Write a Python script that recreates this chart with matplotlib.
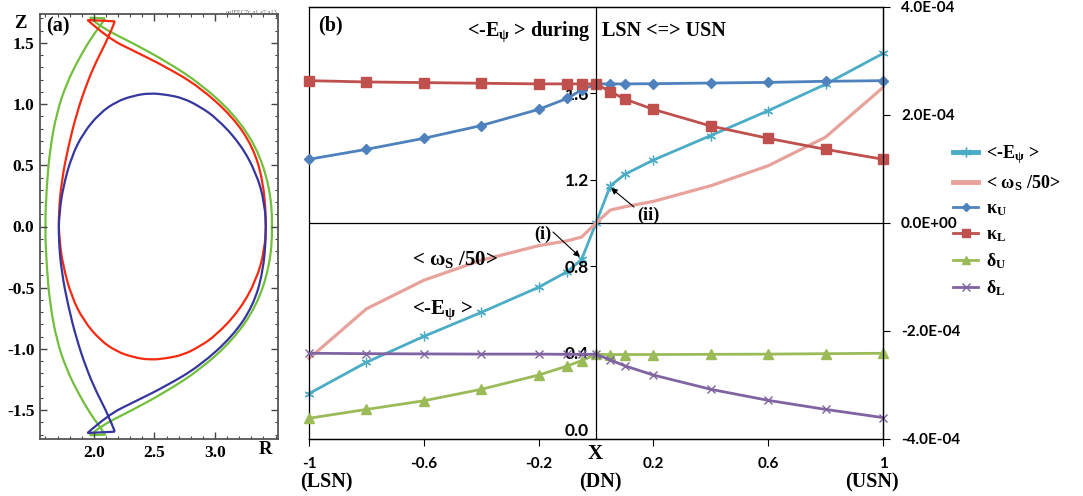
import matplotlib
matplotlib.use("Agg")
import matplotlib.pyplot as plt
from matplotlib.lines import Line2D
from matplotlib.path import Path
from matplotlib.patches import PathPatch
from matplotlib.ticker import MultipleLocator, FuncFormatter

# ---------------- panel (a): plasma boundaries (R, Z) ----------------
# LSN boundary (blue); the USN boundary (red) is its up-down mirror image
lsn_R = [2.173, 2.118, 2.022, 1.940, 1.857, 1.788, 1.734, 1.708, 1.714, 1.747, 1.816, 1.912,
         2.049, 2.187, 2.324, 2.462, 2.599, 2.736, 2.874, 3.012, 3.204, 3.341, 3.410, 3.424,
         3.396, 3.313, 3.148, 2.874, 2.599, 2.324, 2.118, 1.947]
lsn_Z = [-1.676, -1.538, -1.355, -1.165, -0.921, -0.650, -0.377, -0.100, 0.112, 0.328, 0.573,
         0.764, 0.927, 1.021, 1.068, 1.090, 1.077, 1.049, 0.980, 0.886, 0.682, 0.438, 0.193,
         -0.050, -0.377, -0.650, -0.894, -1.139, -1.302, -1.437, -1.538, -1.687]
lsn_corners = [0, 31]
# DN boundary (green), upper half from inner midplane to outer midplane
dn_up_R = [1.596, 1.610, 1.637, 1.692, 1.775, 1.885, 1.994, 2.049, 2.091, 1.967, 2.049,
           2.324, 2.599, 2.874, 3.148, 3.341, 3.451, 3.478]
dn_up_Z = [0.000, 0.328, 0.628, 0.927, 1.171, 1.388, 1.565, 1.632, 1.700, 1.706, 1.632,
           1.497, 1.347, 1.171, 0.927, 0.654, 0.328, 0.000]
dn_corners = [8, 9, 25, 26]

a_xticks = [2.0, 2.5, 3.0]
a_xticklabels = ["2.0", "2.5", "3.0"]
a_yticks = [-1.5, -1.0, -0.5, 0.0, 0.5, 1.0, 1.5]
a_yticklabels = ["-1.5", "-1.0", "-0.5", "0.0", "0.5", "1.0", "1.5"]

# ---------------- panel (b) data ----------------
X = [-1, -0.8, -0.6, -0.4, -0.2, -0.1, -0.05, 0, 0.05, 0.1, 0.2, 0.4, 0.6, 0.8, 1]
kappa_U = [1.295, 1.341, 1.392, 1.451, 1.526, 1.577, 1.616, 1.644, 1.644, 1.644, 1.645,
           1.648, 1.651, 1.656, 1.659]
kappa_L = [1.659, 1.653, 1.650, 1.647, 1.644, 1.644, 1.644, 1.644, 1.608, 1.574, 1.526,
           1.449, 1.392, 1.341, 1.295]
delta_U = [0.096, 0.137, 0.177, 0.230, 0.296, 0.338, 0.363, 0.392, 0.391, 0.391, 0.391,
           0.392, 0.393, 0.395, 0.397]
delta_L = [0.397, 0.395, 0.394, 0.393, 0.393, 0.392, 0.392, 0.392, 0.366, 0.339, 0.296,
           0.230, 0.179, 0.137, 0.099]
E_psi = [-3.16e-4, -2.58e-4, -2.10e-4, -1.656e-4, -1.19e-4, -0.90e-4, -0.675e-4, 0.0,
         0.69e-4, 0.90e-4, 1.166e-4, 1.62e-4, 2.08e-4, 2.57e-4, 3.14e-4]
omega_s50 = [-2.51e-4, -1.59e-4, -1.06e-4, -0.69e-4, -0.42e-4, -0.33e-4, -0.26e-4, 0.0,
             0.24e-4, 0.30e-4, 0.40e-4, 0.69e-4, 1.06e-4, 1.59e-4, 2.51e-4]

b_xticks = [-1, -0.6, -0.2, 0.2, 0.6, 1]
b_xticklabels = ["-1", "-0.6", "-0.2", "0.2", "0.6", "1"]
left_ticks = [0.0, 0.4, 0.8, 1.2, 1.6]
right_ticks = [-4e-4, -2e-4, 0.0, 2e-4, 4e-4]

# ---------------- style ----------------
plt.rcParams["mathtext.fontset"] = "custom"
plt.rcParams["mathtext.rm"] = "Liberation Serif:bold"
plt.rcParams["mathtext.it"] = "Liberation Serif:bold"
plt.rcParams["mathtext.bf"] = "Liberation Serif:bold"

W, H = 1083, 496
fig = plt.figure(figsize=(W / 100, H / 100), dpi=100)


def fp(x, y):
    return (x / W, 1 - y / H)


def smooth_closed_path(R, Z, corners):
    """Closed path through the read boundary points: smooth (quadratic Bezier)
    between the sharp corner points, straight at the corners."""
    pts = list(zip(R, Z))
    n = len(pts)
    verts, codes = [pts[corners[0]]], [Path.MOVETO]
    for k in range(len(corners)):
        c0 = corners[k]
        c1 = corners[(k + 1) % len(corners)]
        run = []
        i = c0
        while True:
            run.append(pts[i])
            if i == c1 and len(run) > 1:
                break
            i = (i + 1) % n
        if len(run) == 2:
            verts.append(run[1]); codes.append(Path.LINETO)
            continue
        m = len(run) - 1
        for j in range(1, m):
            verts.append(run[j]); codes.append(Path.CURVE3)
            if j < m - 1:
                end = ((run[j][0] + run[j + 1][0]) / 2, (run[j][1] + run[j + 1][1]) / 2)
            else:
                end = run[m]
            verts.append(end); codes.append(Path.CURVE3)
    return Path(verts, codes)


SERIF = dict(family="Liberation Serif", weight="bold")

# ---------------- panel (a) ----------------
axa = fig.add_axes([40 / W, (H - 439) / H, 238 / W, 425 / H])
c_lsn, c_usn, c_dn = "#36369f", "#f52a10", "#72bf3c"
dn_R = dn_up_R + dn_up_R[::-1][1:-1]
dn_Z = dn_up_Z + [-z for z in dn_up_Z[::-1][1:-1]]
for R, Z, cr, col in [(dn_R, dn_Z, dn_corners, c_dn),
                      (lsn_R, [-z for z in lsn_Z], lsn_corners, c_usn),
                      (lsn_R, lsn_Z, lsn_corners, c_lsn)]:
    axa.add_patch(PathPatch(smooth_closed_path(R, Z, cr), facecolor="none", edgecolor=col,
                            lw=1.6, joinstyle="miter"))
axa.set_xlim(1.555, 3.52)
axa.set_ylim(-1.736, 1.736)
axa.set_xticks(a_xticks, a_xticklabels)
axa.set_yticks(a_yticks, a_yticklabels)
axa.xaxis.set_minor_locator(MultipleLocator(0.1))
axa.yaxis.set_minor_locator(MultipleLocator(0.1))
axa.tick_params(which="both", direction="in", top=True, right=True, color="#444444")
axa.tick_params(which="major", length=5, width=1.0)
axa.tick_params(which="minor", length=2.5, width=0.8)
axa.tick_params(axis="y", pad=4)
axa.tick_params(axis="x", pad=4)
for lab in axa.get_xticklabels() + axa.get_yticklabels():
    lab.set_fontfamily("Liberation Serif")
    lab.set_fontweight("bold")
    lab.set_fontsize(12.5)
for s in axa.spines.values():
    s.set_color("#555555")
    s.set_linewidth(1.3)
fig.text(*fp(58, 26), "(a)", ha="center", va="center", fontsize=14.5, **SERIF)
fig.text(*fp(20, 23), "Z", ha="center", va="center", fontsize=13.5, **SERIF)
fig.text(*fp(265, 450), "R", ha="center", va="center", fontsize=13.5, **SERIF)
fig.text(*fp(277, 12), "ouIFEC7c.a1.a7.a13", ha="right", va="center", fontsize=4.5,
         color="#666666", family="Liberation Serif")

# ---------------- panel (b) ----------------
axb = fig.add_axes([309 / W, (H - 439) / H, 574 / W, 432 / H])
axb2 = axb.twinx()
axb.set_zorder(axb2.get_zorder() + 1)
axb.patch.set_visible(False)

axb.set_xlim(-1, 1)
axb.set_ylim(0, 2)
axb2.set_ylim(-4e-4, 4e-4)

c_E, c_w, c_kU, c_kL, c_dU, c_dL = "#4bacc6", "#e8a29c", "#4f81bd", "#c0504d", "#9bbb59", "#8064a2"
axb2.plot(X, E_psi, color=c_E, lw=2.0, marker=(6, 2, 0), ms=7, mew=0.9, clip_on=False)
axb2.plot(X, omega_s50, color=c_w, lw=2.3, clip_on=False)
axb.plot(X, kappa_U, color=c_kU, lw=2.0, marker="D", ms=5, clip_on=False)
axb.plot(X, kappa_L, color=c_kL, lw=2.0, marker="s", ms=7, clip_on=False)
axb.plot(X, delta_U, color=c_dU, lw=2.0, marker="^", ms=7, clip_on=False)
axb.plot(X, delta_L, color=c_dL, lw=2.0, marker="x", ms=6, mew=1.0, clip_on=False)

axb2.axhline(0, color="black", lw=0.9, zorder=0)

for s in ["top", "right", "bottom"]:
    axb.spines[s].set_color("black")
    axb.spines[s].set_linewidth(0.9)
axb.spines["left"].set_position(("data", 0))
axb.spines["left"].set_linewidth(0.9)
for s in axb2.spines.values():
    s.set_linewidth(0.9)

axb.set_xticks(b_xticks, b_xticklabels)
axb.set_yticks(left_ticks)
axb.yaxis.set_major_formatter(FuncFormatter(lambda v, p: f"{v:.1f}"))
axb.tick_params(axis="x", direction="out", length=5, pad=8)
axb.tick_params(axis="y", direction="out", length=4, pad=1)
for lab in axb.get_xticklabels():
    lab.set_fontfamily("Lato")
    lab.set_fontweight("bold")
    lab.set_fontsize(11)
for lab in axb.get_yticklabels():
    lab.set_fontfamily("Lato")
    lab.set_fontweight("bold")
    lab.set_fontsize(12.5)
axb.get_yticklabels()[0].set_verticalalignment("bottom")

axb2.set_yticks(right_ticks)
axb2.yaxis.set_major_formatter(FuncFormatter(lambda v, p: f"{v:.1E}"))
axb2.tick_params(axis="y", direction="out", length=5, pad=8)
for lab in axb2.get_yticklabels():
    lab.set_fontfamily("Lato")
    lab.set_fontweight("bold")
    lab.set_fontsize(11)

# annotations
fig.text(*fp(330, 25), "(b)", ha="center", va="center", fontsize=14.5, **SERIF)
fig.text(*fp(590, 36), "<-E$_{ψ}$ > during", ha="right", va="baseline", fontsize=14.5, **SERIF)
fig.text(*fp(602, 36), "LSN <=> USN", ha="left", va="baseline", fontsize=14.5, **SERIF)
fig.text(*fp(412, 265), "< ω$_{S}$ /50>", ha="left", va="baseline", fontsize=15, **SERIF)
fig.text(*fp(412, 314), "<-E$_{ψ}$ >", ha="left", va="baseline", fontsize=15, **SERIF)
fig.text(*fp(543, 234), "(i)", ha="center", va="center", fontsize=13, **SERIF)
fig.text(*fp(648, 215), "(ii)", ha="center", va="center", fontsize=13, **SERIF)
arrow = dict(arrowstyle="-|>", color="black", lw=0.8, mutation_scale=9, shrinkA=0, shrinkB=0)
axb.annotate("", xy=fp(580, 257), xytext=fp(553, 232), xycoords="figure fraction",
             textcoords="figure fraction", arrowprops=arrow)
axb.annotate("", xy=fp(611, 188), xytext=fp(634, 207), xycoords="figure fraction",
             textcoords="figure fraction", arrowprops=arrow)
fig.text(*fp(595, 454), "X", ha="center", va="center", fontsize=15, **SERIF)
fig.text(*fp(326, 482), "(LSN)", ha="center", va="center", fontsize=14.5, **SERIF)
fig.text(*fp(600, 482), "(DN)", ha="center", va="center", fontsize=14.5, **SERIF)
fig.text(*fp(872, 482), "(USN)", ha="center", va="center", fontsize=14.5, **SERIF)

# legend
handles = [Line2D([], [], color=c_E, lw=3.5, marker=(6, 2, 0), ms=7, mew=1.0),
           Line2D([], [], color=c_w, lw=3.5),
           Line2D([], [], color=c_kU, lw=2.0, marker="D", ms=4.5),
           Line2D([], [], color=c_kL, lw=2.0, marker="s", ms=6),
           Line2D([], [], color=c_dU, lw=2.0, marker="^", ms=6),
           Line2D([], [], color=c_dL, lw=2.0, marker="x", ms=6, mew=1.0)]
labels = ["<-E$_{ψ}$ >", "< ω$_{S}$ /50>", "κ$_{U}$", "κ$_{L}$", "δ$_{U}$", "δ$_{L}$"]
fig.legend(handles, labels, loc="upper left", bbox_to_anchor=fp(953, 143), frameon=False,
           prop=dict(family="Liberation Serif", weight="bold", size=13),
           handlelength=1.4, handletextpad=0.45, labelspacing=0.42, borderpad=0,
           borderaxespad=0)

fig.savefig("out.png", dpi=100)
